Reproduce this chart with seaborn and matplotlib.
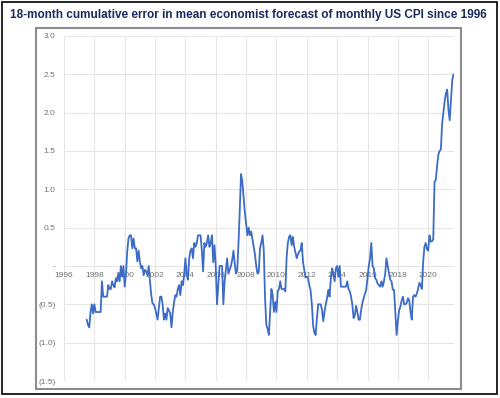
import numpy as np
import pandas as pd
import seaborn as sns
import matplotlib.pyplot as plt
from matplotlib.patches import Rectangle
from matplotlib.ticker import FuncFormatter

# monthly values, first point is July 1997
start_year = 1997.5
cum_error = [
    -0.70, -0.77, -0.80, -0.60, -0.50, -0.62,                                # 1997
    -0.50, -0.60, -0.60, -0.60, -0.60, -0.60, -0.20, -0.40, -0.40, -0.40, -0.40, -0.25,  # 1998
    -0.30, -0.30, -0.20, -0.25, -0.28, -0.16, -0.20, -0.10, -0.20, 0.00, -0.14, 0.00,    # 1999
    -0.27, -0.10, 0.19, 0.36, 0.40, 0.40, 0.23, 0.36, 0.23, 0.23, 0.06, 0.20,           # 2000
    0.06, -0.03, 0.00, -0.12, -0.05, -0.07, -0.12, 0.00, -0.20, -0.38, -0.49, -0.50,    # 2001
    -0.55, -0.62, -0.70, -0.55, -0.40, -0.40, -0.50, -0.70, -0.62, -0.70, -0.55, -0.58,  # 2002
    -0.62, -0.80, -0.60, -0.48, -0.38, -0.40, -0.30, -0.25, -0.38, -0.20, -0.25, -0.12,  # 2003
    0.10, -0.10, -0.18, 0.10, 0.20, 0.23, 0.10, 0.30, 0.25, 0.30, 0.40, 0.40,           # 2004
    0.40, 0.20, -0.07, 0.30, 0.25, 0.30, 0.40, 0.25, 0.30, 0.40, 0.05, 0.27,            # 2005
    0.00, -0.50, -0.25, 0.00, 0.00, 0.00, -0.50, -0.20, -0.05, 0.10, -0.10, -0.05,      # 2006
    0.00, 0.08, 0.20, 0.03, -0.10, -0.05, 0.30, 0.73, 1.20, 1.10, 0.90, 0.70,           # 2007
    0.55, 0.40, 0.50, 0.40, 0.45, 0.35, 0.25, 0.15, 0.00, -0.10, -0.08, 0.23,           # 2008
    0.30, 0.40, 0.20, -0.43, -0.77, -0.82, -0.90, -0.60, -0.30, -0.38, -0.60, -0.47,    # 2009
    -0.60, -0.33, -0.30, -0.20, -0.30, -0.30, -0.30, -0.33, 0.10, 0.30, 0.38, 0.40,     # 2010
    0.27, 0.38, 0.25, 0.18, 0.10, 0.15, 0.19, 0.20, 0.30, 0.05, -0.05, -0.15,           # 2011
    -0.14, -0.16, -0.25, -0.32, -0.50, -0.78, -0.87, -0.90, -0.68, -0.50, -0.50, -0.50,  # 2012
    -0.57, -0.72, -0.60, -0.50, -0.42, -0.31, -0.40, -0.16, -0.03, -0.10, -0.20, -0.03,  # 2013
    0.00, -0.14, 0.00, -0.27, -0.27, -0.27, -0.27, -0.27, -0.20, -0.30, -0.33, -0.40,   # 2014
    -0.50, -0.68, -0.64, -0.52, -0.60, -0.70, -0.70, -0.57, -0.48, -0.42, -0.36, -0.31,  # 2015
    -0.16, 0.00, 0.10, 0.30, 0.00, -0.03, -0.16, -0.18, -0.23, -0.25, -0.27, -0.20,     # 2016
    -0.27, -0.20, -0.10, 0.10, 0.00, -0.10, -0.18, -0.20, -0.31, -0.31, -0.60, -0.90,   # 2017
    -0.72, -0.58, -0.53, -0.45, -0.40, -0.50, -0.50, -0.48, -0.42, -0.45, -0.60, -0.70,  # 2018
    -0.40, -0.38, -0.40, -0.36, -0.30, -0.22, -0.25, -0.30, 0.05, 0.25, 0.30, 0.22,     # 2019
    0.20, 0.40, 0.32, 0.32, 0.35, 1.10, 1.12, 1.30, 1.45, 1.50, 1.52, 1.85,             # 2020
    2.00, 2.15, 2.25, 2.30, 2.04, 1.90, 2.15, 2.42, 2.50,                               # 2021
]
year_ticks = list(range(1996, 2021, 2))
y_ticks = [-1.5, -1.0, -0.5, 0.0, 0.5, 1.0, 1.5, 2.0, 2.5, 3.0]
title = "18-month cumulative error in mean economist forecast of monthly US CPI since 1996"

df = pd.DataFrame({"year": start_year + np.arange(len(cum_error)) / 12,
                   "error": cum_error})

sns.set_style("white")
plt.rcParams['font.family'] = ['Liberation Sans', 'DejaVu Sans']

fig = plt.figure(figsize=(5, 3.98), dpi=100)
ax = fig.add_axes([0.128, 0.0427, 0.78, 0.867])

sns.lineplot(data=df, x="year", y="error", ax=ax, color="#3D6CC7", linewidth=1.3)


def acct(v, pos):
    if abs(v) < 1e-9:
        return "-"
    if v < 0:
        return f"({abs(v):.1f})"
    return f"{v:.1f}"


ax.set_xlim(1996, 2021.7)
ax.set_ylim(-1.5, 3.0)
ax.set_xticks(year_ticks)
ax.set_yticks(y_ticks)
ax.yaxis.set_major_formatter(FuncFormatter(acct))
ax.grid(True, color="#E6E6E6", linewidth=0.8)
ax.set_axisbelow(True)
for s in ax.spines.values():
    s.set_visible(False)
ax.spines["bottom"].set_position(("data", 0))
ax.tick_params(axis="both", length=0, labelsize=6, labelcolor="#737373")
ax.tick_params(axis="y", pad=6)
ax.tick_params(axis="x", pad=4)
ax.set_xlabel("")
ax.set_ylabel("")

fig.text(0.496, 1 - 18.3 / 398, title, ha="center", va="baseline",
         fontsize=8.45, fontweight="bold", color="#1B2A5E")

# chart frame and outer box
fig.add_artist(Rectangle((36 / 500, 1 - 389 / 398), 425 / 500, 361 / 398,
                         transform=fig.transFigure, fill=False,
                         edgecolor="#8C8C8C", linewidth=1.5))
fig.add_artist(Rectangle((2 / 500, 1 - 394 / 398), 495 / 500, 392 / 398,
                         transform=fig.transFigure, fill=False,
                         edgecolor="black", linewidth=1.2))

fig.savefig("out.png", dpi=100)
